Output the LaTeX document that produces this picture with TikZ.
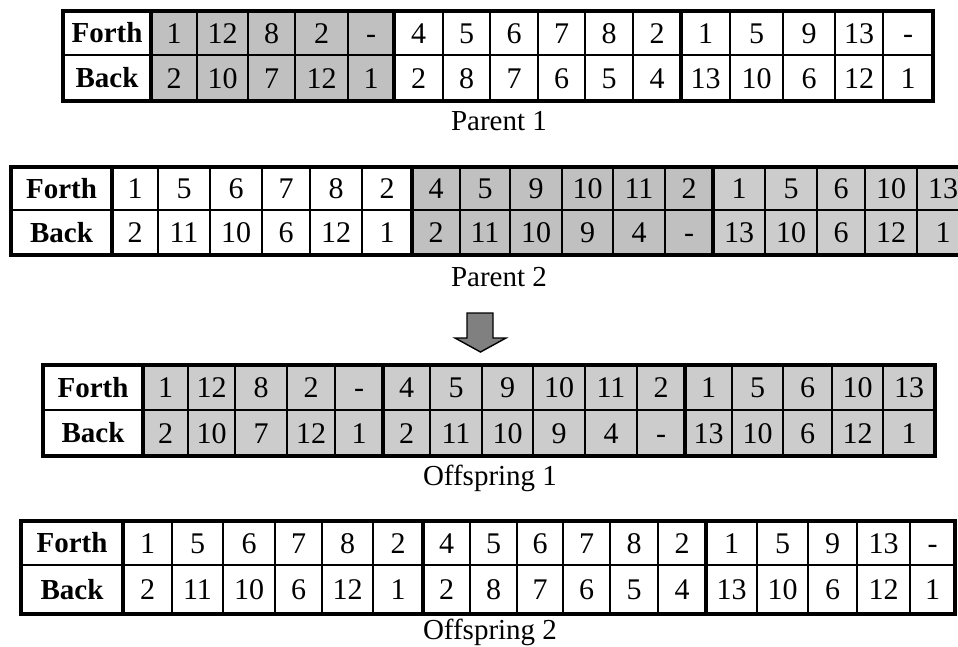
\documentclass[tikz,border=0pt]{standalone}
\usepackage{fontspec}
\setmainfont{Liberation Serif}
\usetikzlibrary{positioning}
\definecolor{shadeA}{HTML}{C0C0C0}
\definecolor{shadeB}{HTML}{CCCCCC}
\definecolor{arrowgray}{HTML}{808080}

\begin{document}
\begin{tikzpicture}[
  x=1pt,y=-1pt,
  gridline/.style={line width=1.6pt},
  frameline/.style={line width=3.8pt},
  val/.style={font=\fontsize{30}{36}\selectfont,inner sep=0pt,text height=20.3pt,text depth=0pt},
  hdr/.style={font=\fontsize{29}{34}\selectfont\bfseries,inner sep=0pt,text height=19.2pt,text depth=0pt},
  caption/.style={font=\fontsize{29}{34}\selectfont,inner sep=0pt,text height=19.2pt,text depth=0pt}
]
\useasboundingbox (0,0) rectangle (958,646);
\clip (0,0) rectangle (958,646);

% Parent 1
\fill[shadeA] (151,11) rectangle (394,101);
\foreach \xa/\xb/\f/\b [count=\i] in {151/197/1/2,197/248/12/10,248/295/8/7,295/348/2/12,348/394/-/1,
  394/443/4/2,443/490/5/8,490/538/6/7,538/585/7/6,585/633/8/5,633/681/2/4,
  681/730/1/13,730/783/5/10,783/835/9/6,835/883/13/12,883/933/-/1}{
  \draw[gridline] (\xa,11) rectangle (\xb,55) (\xa,55) rectangle (\xb,101);
  \node[val] (p1f\i) at ({(\xa+\xb)/2},33) {\f};
  \node[val] (p1b\i) at ({(\xa+\xb)/2},78) {\b};
}
\draw[gridline] (63,55) -- (151,55);
\node[hdr] (p1forth) at (107,33) {Forth};
\node[hdr] (p1back) at (107,78) {Back};
\draw[frameline] (63,11) rectangle (933,101) (151,11) -- (151,101) (394,11) -- (394,101) (681,11) -- (681,101);
\node[caption] (parent1) at (499,121) {Parent 1};

% Parent 2
\fill[shadeA] (412,167) rectangle (713,255);
\fill[shadeB] (713,167) rectangle (975,255);
\foreach \xa/\xb/\f/\b [count=\i] in {112/158/1/2,158/210/5/11,210/262/6/10,262/310/7/6,310/362/8/12,362/412/2/1,
  412/460/4/2,460/510/5/11,510/562/9/10,562/613/10/9,613/665/11/4,665/713/2/-,
  713/765/1/13,765/817/5/10,817/865/6/6,865/917/10/12,917/969/13/1}{
  \draw[gridline] (\xa,167) rectangle (\xb,210) (\xa,210) rectangle (\xb,255);
  \node[val] (p2f\i) at ({(\xa+\xb)/2},188.5) {\f};
  \node[val] (p2b\i) at ({(\xa+\xb)/2},232.5) {\b};
}
\draw[gridline] (11,210) -- (112,210);
\node[hdr] (p2forth) at (61.5,188.5) {Forth};
\node[hdr] (p2back) at (61.5,232.5) {Back};
\draw[frameline] (11,167) rectangle (969,255) (112,167) -- (112,255) (412,167) -- (412,255) (713,167) -- (713,255);
\node[caption] (parent2) at (499,276.5) {Parent 2};

% crossover
\draw[fill=arrowgray,line width=1.4pt,line join=miter] (467,313) -- (493,313) -- (493,338) -- (506,338)
  -- (480.5,352) -- (455,338) -- (467,338) -- cycle;

% Offspring 1
\fill[shadeB] (143,365) rectangle (935,456);
\foreach \xa/\xb/\f/\b [count=\i] in {143/188/1/2,188/235/12/10,235/287/8/7,287/335/2/12,335/383/-/1,
  383/430/4/2,430/482/5/11,482/533/9/10,533/585/10/9,585/637/11/4,637/685/2/-,
  685/732/1/13,732/783/5/10,783/832/6/6,832/883/10/12,883/935/13/1}{
  \draw[gridline] (\xa,365) rectangle (\xb,410) (\xa,410) rectangle (\xb,456);
  \node[val] (o1f\i) at ({(\xa+\xb)/2},387.5) {\f};
  \node[val] (o1b\i) at ({(\xa+\xb)/2},433) {\b};
}
\draw[gridline] (43,410) -- (143,410);
\node[hdr] (o1forth) at (93,387.5) {Forth};
\node[hdr] (o1back) at (93,433) {Back};
\draw[frameline] (43,365) rectangle (935,456) (143,365) -- (143,456) (383,365) -- (383,456) (685,365) -- (685,456);
\node[caption] (offspring1) at (490,476) {Offspring 1};

% Offspring 2
\foreach \xa/\xb/\f/\b [count=\i] in {123/172/1/2,172/223/5/11,223/275/6/10,275/322/7/6,322/373/8/12,373/423/2/1,
  423/470/4/2,470/517/5/8,517/563/6/7,563/610/7/6,610/658/8/5,658/706/2/4,
  706/757/1/13,757/808/5/10,808/857/9/6,857/910/13/12,910/955/-/1}{
  \draw[gridline] (\xa,521) rectangle (\xb,565) (\xa,565) rectangle (\xb,614);
  \node[val] (o2f\i) at ({(\xa+\xb)/2},543) {\f};
  \node[val] (o2b\i) at ({(\xa+\xb)/2},589.5) {\b};
}
\draw[gridline] (21,565) -- (123,565);
\node[hdr] (o2forth) at (72,543) {Forth};
\node[hdr] (o2back) at (72,589.5) {Back};
\draw[frameline] (21,521) rectangle (955,614) (123,521) -- (123,614) (423,521) -- (423,614) (706,521) -- (706,614);
\node[caption] (offspring2) at (490,630) {Offspring 2};
\end{tikzpicture}
\end{document}
